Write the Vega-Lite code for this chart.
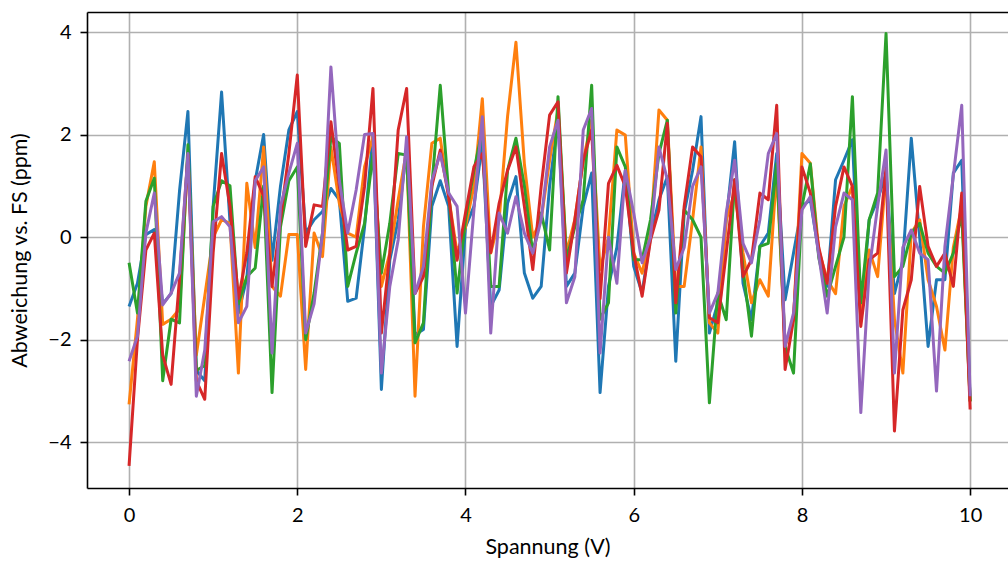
{
"$schema": "https://vega.github.io/schema/vega-lite/v6.json",
"width": 921, "height": 476,
"autosize": {"type": "none"},
"padding": {"left": 87, "top": 12, "right": 0, "bottom": 73},
"background": "white",
"config": {
 "view": {"stroke": null},
 "font": "Lato",
 "axis": {"domainColor": "black", "domainWidth": 1.6, "tickColor": "black", "tickWidth": 1.6, "tickSize": 7,
  "gridColor": "#b0b0b0", "gridWidth": 1.6, "labelFont": "Lato", "labelFontSize": 20, "labelColor": "black",
  "titleFont": "Lato", "titleFontSize": 21.5, "titleFontWeight": "normal", "titleColor": "black", "labelPadding": 7}
},
"data": {"values": [
{"x":0,"A":-1.35,"B":-3.26,"C":-0.5,"D":-4.46,"E":-2.42},
{"x":0.1,"A":-0.9,"B":-1.6,"C":-1.48,"D":-2.0,"E":-1.93},
{"x":0.2,"A":0.05,"B":0.6,"C":0.7,"D":-0.25,"E":0.08},
{"x":0.3,"A":0.15,"B":1.47,"C":1.15,"D":0.08,"E":0.86},
{"x":0.4,"A":-1.3,"B":-1.7,"C":-2.8,"D":-2.3,"E":-1.32},
{"x":0.5,"A":-1.1,"B":-1.6,"C":-1.6,"D":-2.87,"E":-1.09},
{"x":0.6,"A":0.9,"B":-1.4,"C":-1.67,"D":-0.8,"E":-0.7},
{"x":0.7,"A":2.45,"B":1.6,"C":1.8,"D":1.6,"E":1.63},
{"x":0.8,"A":-2.6,"B":-2.3,"C":-2.6,"D":-2.8,"E":-3.1},
{"x":0.9,"A":-2.8,"B":-1.15,"C":-2.5,"D":-3.16,"E":-2.2},
{"x":1,"A":0.6,"B":0.0,"C":0.6,"D":-0.3,"E":0.3},
{"x":1.1,"A":2.83,"B":0.34,"C":1.1,"D":1.63,"E":0.4},
{"x":1.2,"A":0.3,"B":0.27,"C":1.0,"D":0.6,"E":0.2},
{"x":1.3,"A":-1.48,"B":-2.65,"C":-1.3,"D":-1.2,"E":-1.67},
{"x":1.4,"A":-0.8,"B":1.05,"C":-0.77,"D":-0.31,"E":-1.35},
{"x":1.5,"A":1.1,"B":-0.2,"C":-0.6,"D":1.18,"E":1.1},
{"x":1.6,"A":2.0,"B":1.76,"C":1.0,"D":0.8,"E":1.37},
{"x":1.7,"A":-0.45,"B":-0.96,"C":-3.03,"D":-0.96,"E":-2.26},
{"x":1.8,"A":0.99,"B":-1.15,"C":0.2,"D":0.34,"E":0.6},
{"x":1.9,"A":2.09,"B":0.05,"C":1.1,"D":1.63,"E":1.25},
{"x":2,"A":2.45,"B":0.05,"C":1.37,"D":3.16,"E":1.83},
{"x":2.1,"A":0.08,"B":-2.58,"C":-2.0,"D":-0.18,"E":-1.87},
{"x":2.2,"A":0.34,"B":0.08,"C":-1.09,"D":0.63,"E":-1.3},
{"x":2.3,"A":0.5,"B":-0.38,"C":0.08,"D":0.6,"E":0.08},
{"x":2.4,"A":0.95,"B":1.76,"C":1.96,"D":2.25,"E":3.32},
{"x":2.5,"A":0.73,"B":0.66,"C":1.83,"D":0.99,"E":1.1},
{"x":2.6,"A":-1.25,"B":0.08,"C":-0.96,"D":-0.25,"E":0.08},
{"x":2.7,"A":-1.19,"B":0.0,"C":-0.31,"D":-0.18,"E":0.92},
{"x":2.8,"A":0.2,"B":1.37,"C":0.27,"D":0.99,"E":2.0},
{"x":2.9,"A":2.0,"B":1.96,"C":1.63,"D":2.9,"E":2.02},
{"x":3,"A":-2.97,"B":-0.96,"C":-0.7,"D":-1.87,"E":-2.65},
{"x":3.1,"A":-0.45,"B":-0.31,"C":0.27,"D":-0.31,"E":-0.96},
{"x":3.2,"A":0.34,"B":0.73,"C":1.63,"D":2.09,"E":-0.05},
{"x":3.3,"A":1.7,"B":1.7,"C":1.6,"D":2.9,"E":1.96},
{"x":3.4,"A":-1.9,"B":-3.1,"C":-2.06,"D":-1.1,"E":-1.1},
{"x":3.5,"A":-1.8,"B":0.2,"C":-1.67,"D":-0.77,"E":-0.57},
{"x":3.6,"A":0.6,"B":1.83,"C":1.0,"D":0.99,"E":1.1},
{"x":3.7,"A":1.1,"B":1.93,"C":2.96,"D":1.7,"E":1.63},
{"x":3.8,"A":0.6,"B":0.79,"C":0.86,"D":0.79,"E":0.86},
{"x":3.9,"A":-2.13,"B":-0.31,"C":-1.09,"D":-0.45,"E":0.6},
{"x":4,"A":0.2,"B":0.2,"C":0.34,"D":0.47,"E":-1.48},
{"x":4.1,"A":0.6,"B":0.99,"C":1.3,"D":1.37,"E":0.53},
{"x":4.2,"A":1.83,"B":2.7,"C":2.09,"D":1.63,"E":2.35},
{"x":4.3,"A":-1.35,"B":-0.31,"C":-0.96,"D":-0.3,"E":-1.87},
{"x":4.4,"A":-1.03,"B":0.34,"C":-0.96,"D":0.66,"E":0.47},
{"x":4.5,"A":0.66,"B":2.35,"C":1.3,"D":1.3,"E":0.08},
{"x":4.6,"A":1.18,"B":3.8,"C":1.93,"D":1.76,"E":0.79},
{"x":4.7,"A":-0.7,"B":1.43,"C":1.0,"D":0.6,"E":0.08},
{"x":4.8,"A":-1.19,"B":0.0,"C":-0.31,"D":-0.63,"E":-0.31},
{"x":4.9,"A":-0.96,"B":0.34,"C":0.47,"D":0.99,"E":0.34},
{"x":5,"A":1.0,"B":1.5,"C":-0.25,"D":2.38,"E":1.76},
{"x":5.1,"A":2.28,"B":2.48,"C":2.74,"D":2.64,"E":2.28},
{"x":5.2,"A":-0.96,"B":-0.31,"C":-0.44,"D":-0.7,"E":-1.28},
{"x":5.3,"A":-0.7,"B":0.34,"C":0.2,"D":0.34,"E":-0.77},
{"x":5.4,"A":0.6,"B":1.5,"C":0.73,"D":1.5,"E":2.09},
{"x":5.5,"A":1.25,"B":2.28,"C":2.96,"D":2.09,"E":2.51},
{"x":5.6,"A":-3.03,"B":-0.63,"C":-1.6,"D":-1.2,"E":-2.26},
{"x":5.7,"A":-0.96,"B":0.0,"C":-1.28,"D":1.05,"E":0.0},
{"x":5.8,"A":-0.2,"B":2.09,"C":1.76,"D":1.4,"E":-0.9},
{"x":5.9,"A":1.3,"B":1.99,"C":1.37,"D":0.99,"E":1.3},
{"x":6,"A":-0.57,"B":-0.31,"C":-0.44,"D":-0.31,"E":0.47},
{"x":6.1,"A":-1.09,"B":-0.7,"C":-0.44,"D":-1.15,"E":-0.5},
{"x":6.2,"A":0.0,"B":0.08,"C":0.34,"D":-0.05,"E":0.0},
{"x":6.3,"A":0.73,"B":2.48,"C":1.63,"D":0.53,"E":1.76},
{"x":6.4,"A":1.18,"B":2.28,"C":2.28,"D":2.22,"E":1.12},
{"x":6.5,"A":-2.42,"B":-0.96,"C":-1.48,"D":-1.28,"E":-0.63},
{"x":6.6,"A":0.47,"B":-0.96,"C":0.53,"D":0.6,"E":-0.2},
{"x":6.7,"A":1.3,"B":0.34,"C":0.34,"D":1.76,"E":0.99},
{"x":6.8,"A":2.35,"B":1.76,"C":0.0,"D":1.57,"E":1.37},
{"x":6.9,"A":-1.87,"B":-1.67,"C":-3.23,"D":-1.57,"E":-1.48},
{"x":7,"A":-1.28,"B":-1.87,"C":-1.09,"D":-1.67,"E":-1.09},
{"x":7.1,"A":0.34,"B":0.34,"C":-1.61,"D":-0.31,"E":0.47},
{"x":7.2,"A":1.86,"B":0.86,"C":1.12,"D":1.12,"E":1.5},
{"x":7.3,"A":-0.9,"B":-0.31,"C":-0.63,"D":-0.77,"E":-0.12},
{"x":7.4,"A":-1.61,"B":-1.28,"C":-1.93,"D":-0.44,"E":-0.5},
{"x":7.5,"A":-0.18,"B":-0.83,"C":-0.18,"D":0.86,"E":0.34},
{"x":7.6,"A":0.08,"B":-1.15,"C":-0.12,"D":0.73,"E":1.63},
{"x":7.7,"A":1.63,"B":1.3,"C":1.43,"D":2.57,"E":2.02},
{"x":7.8,"A":-1.22,"B":-2.13,"C":-2.13,"D":-2.58,"E":-2.13},
{"x":7.9,"A":-0.31,"B":-1.6,"C":-2.65,"D":-1.61,"E":-1.48},
{"x":8,"A":0.6,"B":1.63,"C":0.6,"D":1.37,"E":0.53},
{"x":8.1,"A":0.73,"B":1.44,"C":1.43,"D":0.86,"E":0.79},
{"x":8.2,"A":-0.31,"B":-0.25,"C":-0.4,"D":-0.2,"E":-0.35},
{"x":8.3,"A":-0.96,"B":-0.83,"C":-1.15,"D":-0.9,"E":-1.48},
{"x":8.4,"A":1.12,"B":-1.1,"C":-0.57,"D":0.6,"E":0.2},
{"x":8.5,"A":1.5,"B":0.6,"C":0.0,"D":1.37,"E":0.86},
{"x":8.6,"A":1.9,"B":1.0,"C":2.74,"D":0.99,"E":0.73},
{"x":8.7,"A":-1.6,"B":-1.6,"C":-1.28,"D":-1.74,"E":-3.42},
{"x":8.8,"A":0.34,"B":-0.25,"C":0.34,"D":-0.44,"E":-0.63},
{"x":8.9,"A":0.73,"B":-0.77,"C":0.86,"D":-0.31,"E":0.6},
{"x":9,"A":1.25,"B":1.25,"C":3.97,"D":1.37,"E":1.7},
{"x":9.1,"A":-1.1,"B":-1.6,"C":-0.77,"D":-3.78,"E":-2.65},
{"x":9.2,"A":-0.45,"B":-2.65,"C":-0.57,"D":-1.42,"E":-0.2},
{"x":9.3,"A":1.93,"B":0.08,"C":0.08,"D":-0.83,"E":0.14},
{"x":9.4,"A":0.0,"B":0.34,"C":0.27,"D":0.99,"E":-0.31},
{"x":9.5,"A":-2.13,"B":-0.83,"C":-0.31,"D":-0.18,"E":-0.44},
{"x":9.6,"A":-0.83,"B":-1.35,"C":-0.57,"D":-0.57,"E":-3.0},
{"x":9.7,"A":-0.83,"B":-2.2,"C":-0.7,"D":-0.31,"E":-0.18},
{"x":9.8,"A":1.25,"B":-0.2,"C":-0.31,"D":-0.96,"E":1.2},
{"x":9.9,"A":1.5,"B":0.6,"C":0.47,"D":0.86,"E":2.57},
{"x":10,"A":-3.2,"B":-3.2,"C":-3.2,"D":-3.36,"E":-3.1}
]},
"transform": [{"fold": ["A", "B", "C", "D", "E"], "as": ["s", "v"]}],
"encoding": {
 "x": {"field": "x", "type": "quantitative", "scale": {"domain": [-0.5, 10.45], "nice": false, "zero": false},
   "axis": {"values": [0, 2, 4, 6, 8, 10], "title": "Spannung (V)", "titlePadding": 11, "labelPadding": 10, "format": "d"}},
 "y": {"field": "v", "type": "quantitative", "scale": {"domain": [-4.89, 4.39], "nice": false, "zero": false},
   "axis": {"values": [-4, -2, 0, 2, 4], "title": "Abweichung vs. FS (ppm)", "titlePadding": 16, "labelPadding": 9, "format": "d"}}
},
"layer": [
 {"mark": {"type": "line", "strokeWidth": 3, "strokeJoin": "round", "clip": true},
  "encoding": {
   "color": {"field": "s", "type": "nominal", "scale": {"domain": ["A", "B", "C", "D", "E"], "range": ["#1f77b4", "#ff7f0e", "#2ca02c", "#d62728", "#9467bd"]}, "legend": null}
  }},
 {"mark": {"type": "line", "opacity": 0},
  "encoding": {
   "detail": {"field": "s", "type": "nominal"},
   "x": {"field": "x", "type": "quantitative", "axis": {"orient": "top", "labels": false, "ticks": false, "grid": false, "domain": true, "title": null}}
  }}
],
"resolve": {"axis": {"x": "independent"}}
}
